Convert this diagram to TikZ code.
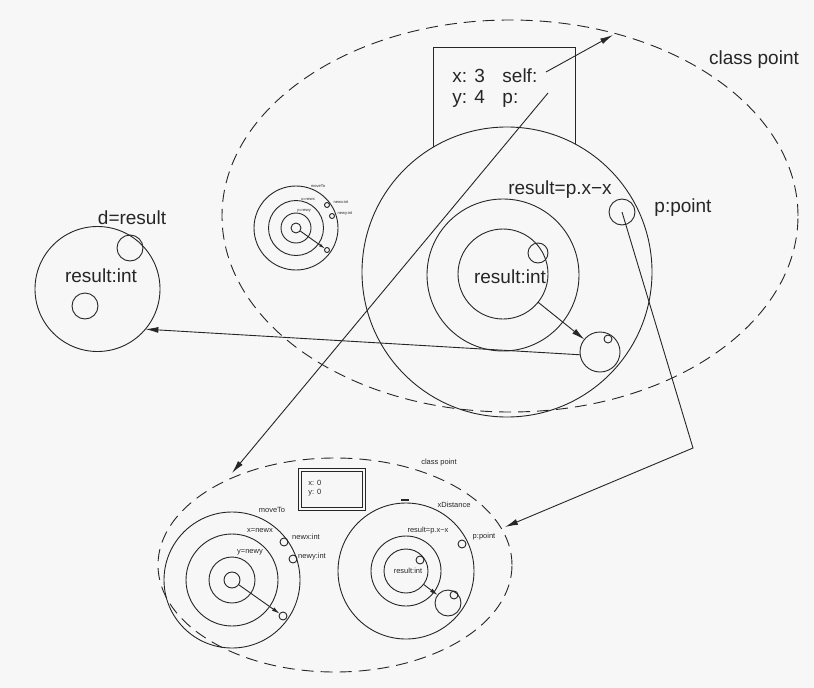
\documentclass[tikz,border=0pt]{standalone}
\usepackage{fontspec}
\setmainfont{Liberation Sans}
\usetikzlibrary{shapes.geometric,arrows.meta}
\begin{document}
\begin{tikzpicture}[x=1pt,y=-1pt,
  line width=0.9pt, color=black!85,
  ring/.style={circle,draw,inner sep=0pt,outer sep=0pt,minimum size=#1},
  dashell/.style={ellipse,draw,dash pattern=on 12pt off 7pt,inner sep=0pt,outer sep=0pt},
  big/.style={font=\fontsize{19}{21}\selectfont,inner sep=0pt},
  small/.style={font=\fontsize{7.5}{8}\selectfont,inner sep=0pt},
  tiny/.style={font=\fontsize{4}{4.5}\selectfont,inner sep=0pt},
  arr/.style={-{Latex[length=13pt,width=6pt]}},
  arrs/.style={-{Latex[length=8pt,width=4pt]}},
  arrt/.style={-{Latex[length=6pt,width=3pt]}},
]
\fill[black!3] (0,0) rectangle (814,688);
\useasboundingbox (0,0) rectangle (814,688);

% ---------- top class ----------
\node[dashell,minimum width=576pt,minimum height=392pt] (bigell) at (510,216) {};
\node[big] (cp) at (754,60) {class point};

\coordinate (boxbl) at (433,147);
\coordinate (boxtl) at (433,47);
\coordinate (boxtr) at (575,47);
\coordinate (boxbr) at (575,144);
\draw (boxbl) -- (boxtl) -- (boxtr) -- (boxbr);
\node[big,anchor=base west] (x3) at (452,82) {x: 3};
\node[big,anchor=base west] (self) at (502,82) {self:};
\node[big,anchor=base west] (y4) at (452,103) {y: 4};
\node[big,anchor=base west] (pvar) at (502,103) {p:};

\node[ring=290pt] (outer) at (507,272) {};
\node[ring=152pt] (mid) at (503,275) {};
\node[ring=90pt] (inner) at (503,274) {};
\node[big] (rint) at (510,277) {result:int};
\node[ring=20pt] (innersm) at (538,253) {};
\node[ring=40pt] (bsc) at (600,352) {};
\node[ring=8pt] (bsctiny) at (608,339) {};
\node[ring=26pt] (pc) at (622,212) {};
\node[big] (plabel) at (683,208) {p:point};
\node[big] (reslabel) at (560,190) {result=p.x−x};

% small concentric set
\node[ring=84pt] (s1) at (296,228) {};
\node[ring=55pt] (s2) at (296,228) {};
\node[ring=30pt] (s3) at (296,228) {};
\node[ring=10pt] (s4) at (296,228) {};
\node[ring=5pt] (s5) at (327,250) {};
\node[ring=5pt] (s6) at (327,205) {};
\node[ring=5pt] (s7) at (332,216) {};
\node[tiny] (t1) at (318,186) {moveTo};
\node[tiny] (t2) at (308,199) {x=newx};
\node[tiny] (t3) at (341,202) {newx:int};
\node[tiny] (t4) at (304,211) {y=newy};
\node[tiny] (t5) at (345,213) {newy:int};
\draw[arrt] (s4) -- (s5);

% ---------- left circle ----------
\node[ring=125pt] (lc) at (97.5,289) {};
\node[ring=26pt] (lc1) at (130,248) {};
\node[ring=26pt] (lc2) at (85,306) {};
\node[big] (dres) at (132,218) {d=result};
\node[big] (lres) at (101,276) {result:int};

% ---------- bottom class ----------
\node[dashell,minimum width=354pt,minimum height=214pt] (botell) at (335,565) {};
\node[small] (cp2) at (439,463) {class point};
\node[draw,minimum width=67pt,minimum height=42pt,inner sep=0pt,outer sep=0pt] (dbox) at (331.5,489) {};
\node[draw,minimum width=61pt,minimum height=36pt,inner sep=0pt,outer sep=0pt] (dboxin) at (331.5,489) {};
\node[small,anchor=west] (x0) at (308,483) {x: 0};
\node[small,anchor=west] (y0) at (308,493) {y: 0};

% left set
\node[ring=136pt] (l1) at (232,580) {};
\node[ring=92pt] (l2) at (232,580) {};
\node[ring=46pt] (l3) at (232,580) {};
\node[ring=16pt] (l4) at (232,580) {};
\node[ring=8pt] (l5) at (283,616) {};
\node[ring=8pt] (l6) at (284,542) {};
\node[ring=8pt] (l7) at (293,559) {};
\node[small] (m1) at (272,510) {moveTo};
\node[small] (m2) at (260,531) {x=newx};
\node[small] (m3) at (306,537) {newx:int};
\node[small] (m4) at (250,552) {y=newy};
\node[small] (m5) at (312,557) {newy:int};
\draw[arrs] (l4) -- (l5);

% right set
\node[ring=136pt] (r1) at (406,571) {};
\node[ring=70pt] (r2) at (406,571) {};
\node[ring=44pt] (r3) at (406,571) {};
\node[ring=8pt] (r4) at (420,560) {};
\node[ring=26pt] (r5) at (448,603) {};
\node[ring=8pt] (r6) at (454,595) {};
\node[ring=8pt] (r7) at (462,544) {};
\node[small] (n1) at (454,505) {xDistance};
\node[small] (n2) at (428,531) {result=p.x−x};
\node[small] (n3) at (484,537) {p:point};
\node[small] (n4) at (408,571) {result:int};
\coordinate (markl) at (401,500);
\coordinate (markr) at (409,500);
\draw[line width=1.4pt] (markl) -- (markr);
\draw[arrs] (r3) -- (r5);

% ---------- long connectors ----------
\coordinate (selfstart) at (546,72);
\coordinate (selftip) at (613,35);
\draw[arr] (selfstart) -- (selftip);
\coordinate (pstart) at (548,93);
\coordinate (ptip) at (232,473);
\draw[arr] (pstart) -- (ptip);
\draw[arr] (inner) -- (bsc);
\draw[arr] (bsc.188) -- (lc.-40);
\coordinate (corner) at (693,448);
\coordinate (ptip2) at (505,527);
\draw[arr] (pc.center) -- (corner) -- (ptip2);
\end{tikzpicture}
\end{document}
